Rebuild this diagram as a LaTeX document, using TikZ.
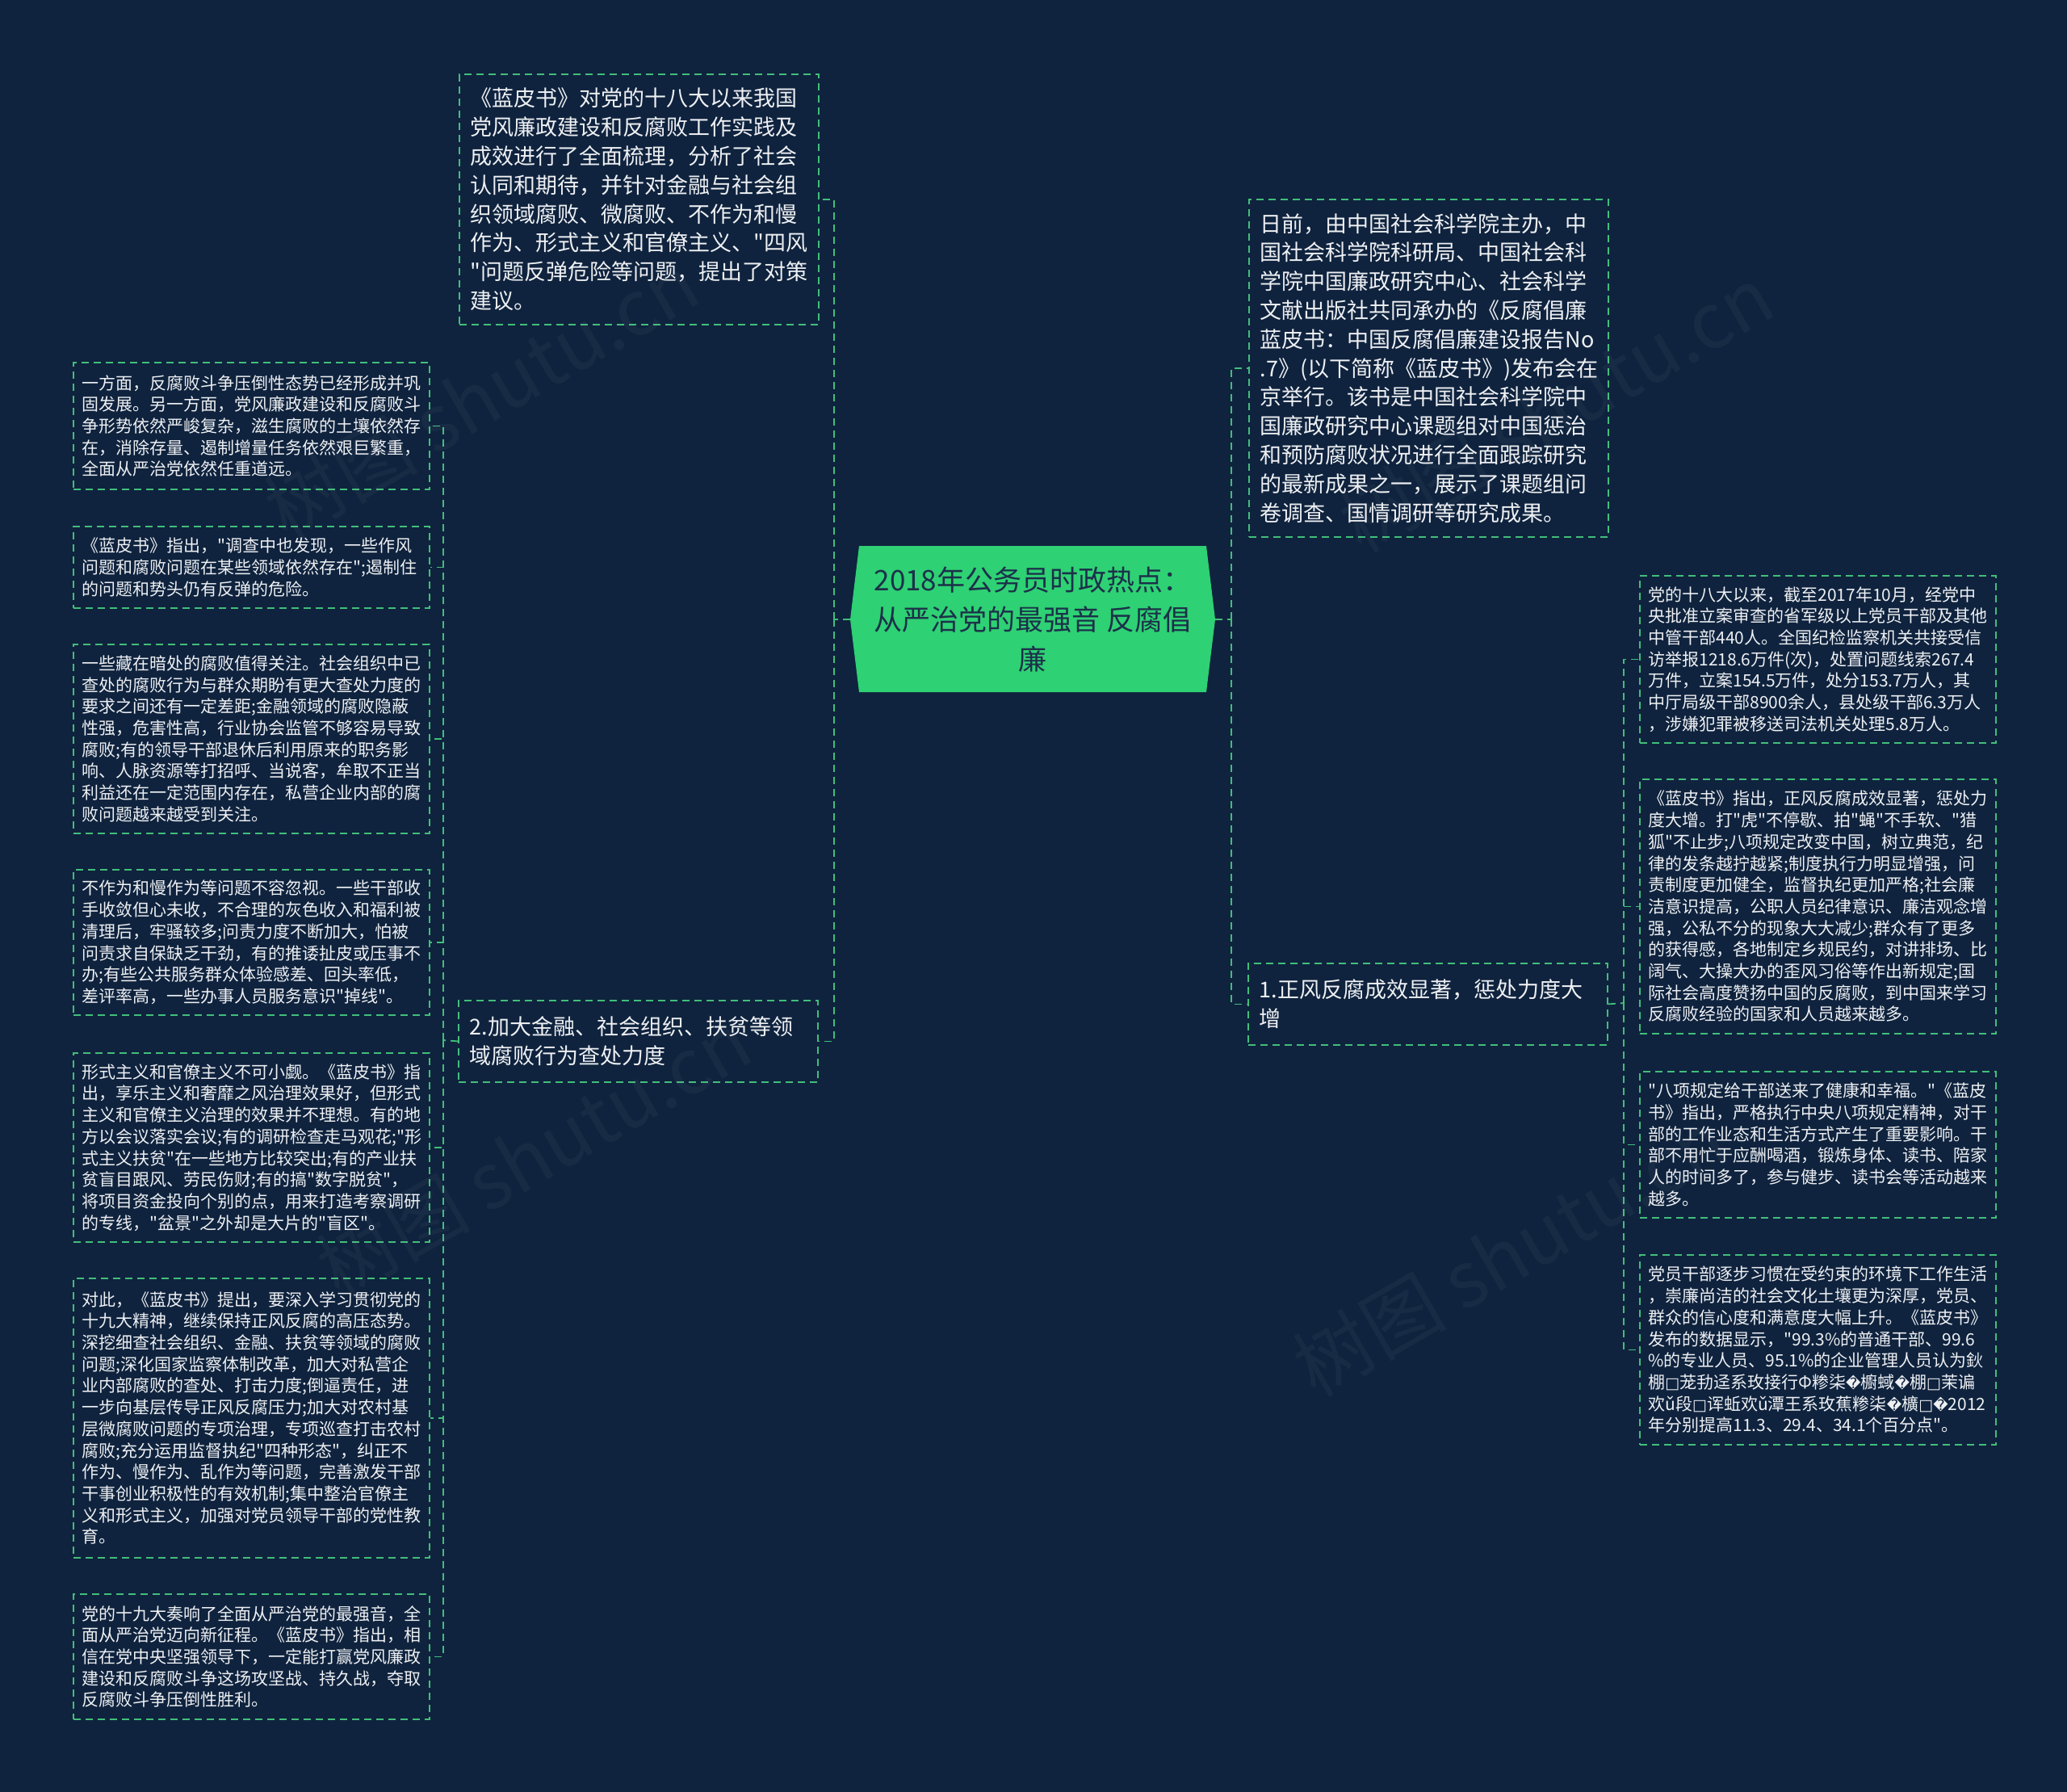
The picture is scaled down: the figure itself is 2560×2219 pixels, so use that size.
\documentclass[tikz,border=0pt]{standalone}
\usepackage{fontspec}
\setmainfont{Noto Sans CJK SC}
\newfontfamily\cjk{Noto Sans CJK SC}
\newfontfamily\dejavu{DejaVu Sans}
\newcommand{\rep}{{\dejavu\fontsize{18pt}{18pt}\selectfont\char"FFFD}}
\newcommand{\tofu}{{\dejavu\fontsize{19pt}{19pt}\selectfont\char"25A1}}
\definecolor{bg}{RGB}{15,35,62}
\definecolor{lg}{RGB}{66,190,122}
\definecolor{cg}{RGB}{46,209,115}
\definecolor{tx}{RGB}{238,240,243}
\definecolor{ctx}{RGB}{28,48,74}
\tikzset{
  boxbase/.style={draw=lg, line width=1.8pt, dash pattern=on 9pt off 6pt, fill=bg, text=tx, anchor=north west, align=left, inner ysep=0pt},
  sbox/.style={boxbase, inner xsep=10.5pt, text width=420pt, font=\cjk\fontsize{21pt}{26.7pt}\selectfont},
  bbox/.style={boxbase, inner xsep=14pt, text width=417pt, font=\cjk\fontsize{27pt}{35.8pt}\selectfont},
  link/.style={draw=lg, line width=1.8pt, dash pattern=on 9pt off 6pt},
  wmark/.style={text=white, opacity=0.04, rotate=30, font=\cjk\fontsize{95pt}{95pt}\selectfont}
}
\begin{document}
\begin{tikzpicture}[x=1pt,y=-1pt]
\useasboundingbox (0,0) rectangle (2560,2219);
\fill[bg] (0,0) rectangle (2560,2219);

% centre
\fill[cg] (1064,676) -- (1494,676) -- (1505,767) -- (1494,857) -- (1064,857) -- (1053,767) -- cycle;
\node[minimum width=452pt, minimum height=181pt, inner sep=0pt, align=center, text=ctx, font=\cjk\fontsize{35pt}{49pt}\selectfont] (c) at (1279,767) {2018年公务员时政热点：\\从严治党的最强音 反腐倡\\廉};

% top-left big box
\node[bbox, minimum height=310pt] (t1) at (568,91) {《蓝皮书》对党的十八大以来我国\\党风廉政建设和反腐败工作实践及\\成效进行了全面梳理，分析了社会\\认同和期待，并针对金融与社会组\\织领域腐败、微腐败、不作为和慢\\作为、形式主义和官僚主义、"四风\\"问题反弹危险等问题，提出了对策\\建议。};

% box 2
\node[bbox, minimum height=101pt] (b2) at (567,1238) {2.加大金融、社会组织、扶贫等领\\域腐败行为查处力度};

% top-right big box
\node[bbox, minimum height=418pt] (tr) at (1546,246) {日前，由中国社会科学院主办，中\\国社会科学院科研局、中国社会科\\学院中国廉政研究中心、社会科学\\文献出版社共同承办的《反腐倡廉\\蓝皮书：中国反腐倡廉建设报告No\\.7》(以下简称《蓝皮书》)发布会在\\京举行。该书是中国社会科学院中\\国廉政研究中心课题组对中国惩治\\和预防腐败状况进行全面跟踪研究\\的最新成果之一，展示了课题组问\\卷调查、国情调研等研究成果。};

% box 1
\node[bbox, minimum height=101pt] (b1) at (1545,1192) {1.正风反腐成效显著，惩处力度大\\增};

% left small boxes
\node[sbox, minimum height=157pt] (l1) at (90,448) {一方面，反腐败斗争压倒性态势已经形成并巩\\固发展。另一方面，党风廉政建设和反腐败斗\\争形势依然严峻复杂，滋生腐败的土壤依然存\\在，消除存量、遏制增量任务依然艰巨繁重，\\全面从严治党依然任重道远。};
\node[sbox, minimum height=101pt] (l2) at (90,651) {《蓝皮书》指出，"调查中也发现，一些作风\\问题和腐败问题在某些领域依然存在";遏制住\\的问题和势头仍有反弹的危险。};
\node[sbox, minimum height=234pt] (l3) at (90,797) {一些藏在暗处的腐败值得关注。社会组织中已\\查处的腐败行为与群众期盼有更大查处力度的\\要求之间还有一定差距;金融领域的腐败隐蔽\\性强，危害性高，行业协会监管不够容易导致\\腐败;有的领导干部退休后利用原来的职务影\\响、人脉资源等打招呼、当说客，牟取不正当\\利益还在一定范围内存在，私营企业内部的腐\\败问题越来越受到关注。};
\node[sbox, minimum height=180pt] (l4) at (90,1076) {不作为和慢作为等问题不容忽视。一些干部收\\手收敛但心未收，不合理的灰色收入和福利被\\清理后，牢骚较多;问责力度不断加大，怕被\\问责求自保缺乏干劲，有的推诿扯皮或压事不\\办;有些公共服务群众体验感差、回头率低，\\差评率高，一些办事人员服务意识"掉线"。};
\node[sbox, minimum height=234pt] (l5) at (90,1303) {形式主义和官僚主义不可小觑。《蓝皮书》指\\出，享乐主义和奢靡之风治理效果好，但形式\\主义和官僚主义治理的效果并不理想。有的地\\方以会议落实会议;有的调研检查走马观花;"形\\式主义扶贫"在一些地方比较突出;有的产业扶\\贫盲目跟风、劳民伤财;有的搞"数字脱贫"，\\将项目资金投向个别的点，用来打造考察调研\\的专线，"盆景"之外却是大片的"盲区"。};
\node[sbox, minimum height=346pt] (l6) at (90,1582) {对此，《蓝皮书》提出，要深入学习贯彻党的\\十九大精神，继续保持正风反腐的高压态势。\\深挖细查社会组织、金融、扶贫等领域的腐败\\问题;深化国家监察体制改革，加大对私营企\\业内部腐败的查处、打击力度;倒逼责任，进\\一步向基层传导正风反腐压力;加大对农村基\\层微腐败问题的专项治理，专项巡查打击农村\\腐败;充分运用监督执纪"四种形态"，纠正不\\作为、慢作为、乱作为等问题，完善激发干部\\干事创业积极性的有效机制;集中整治官僚主\\义和形式主义，加强对党员领导干部的党性教\\育。};
\node[sbox, minimum height=155pt] (l7) at (90,1973) {党的十九大奏响了全面从严治党的最强音，全\\面从严治党迈向新征程。《蓝皮书》指出，相\\信在党中央坚强领导下，一定能打赢党风廉政\\建设和反腐败斗争这场攻坚战、持久战，夺取\\反腐败斗争压倒性胜利。};

% right small boxes
\node[sbox, minimum height=207pt] (r1) at (2030,712) {党的十八大以来，截至2017年10月，经党中\\央批准立案审查的省军级以上党员干部及其他\\中管干部440人。全国纪检监察机关共接受信\\访举报1218.6万件(次)，处置问题线索267.4\\万件，立案154.5万件，处分153.7万人，其\\中厅局级干部8900余人，县处级干部6.3万人\\，涉嫌犯罪被移送司法机关处理5.8万人。};
\node[sbox, minimum height=315pt] (r2) at (2030,964) {《蓝皮书》指出，正风反腐成效显著，惩处力\\度大增。打"虎"不停歇、拍"蝇"不手软、"猎\\狐"不止步;八项规定改变中国，树立典范，纪\\律的发条越拧越紧;制度执行力明显增强，问\\责制度更加健全，监督执纪更加严格;社会廉\\洁意识提高，公职人员纪律意识、廉洁观念增\\强，公私不分的现象大大减少;群众有了更多\\的获得感，各地制定乡规民约，对讲排场、比\\阔气、大操大办的歪风习俗等作出新规定;国\\际社会高度赞扬中国的反腐败，到中国来学习\\反腐败经验的国家和人员越来越多。};
\node[sbox, minimum height=181pt] (r3) at (2030,1326) {"八项规定给干部送来了健康和幸福。"《蓝皮\\书》指出，严格执行中央八项规定精神，对干\\部的工作业态和生活方式产生了重要影响。干\\部不用忙于应酬喝酒，锻炼身体、读书、陪家\\人的时间多了，参与健步、读书会等活动越来\\越多。};
\node[sbox, minimum height=235pt] (r4) at (2030,1553) {党员干部逐步习惯在受约束的环境下工作生活\\，崇廉尚洁的社会文化土壤更为深厚，党员、\\群众的信心度和满意度大幅上升。《蓝皮书》\\发布的数据显示，"99.3\%的普通干部、99.6\\\%的专业人员、95.1\%的企业管理人员认为鈥\\棚\tofu 茏劧迳系玫接行Φ糁柒\rep 櫥蜮\rep 棚\tofu 茉谝\\欢ǔ段\tofu 诨蚯欢ǔ潭王系玫蕉糁柒\rep 櫎\tofu\rep 2012\\年分别提高11.3、29.4、34.1个百分点"。};

% connectors
\coordinate (jl) at (1033,767);
\coordinate (jl2) at (549,1288);
\coordinate (jr) at (1525,767);
\coordinate (jr2) at (2011,1242);
\draw[link] (c.west) -- (jl);
\draw[link] (jl) |- (t1.east);
\draw[link] (jl) |- (b2.east);
\draw[link] (b2.west) -- (jl2);
\foreach \n in {l1,l2,l3,l4,l5,l6,l7} \draw[link] (jl2) |- (\n.east);
\draw[link] (c.east) -- (jr);
\draw[link] (jr) |- (tr.west);
\draw[link] (jr) |- (b1.west);
\draw[link] (b1.east) -- (jr2);
\foreach \n in {r1,r2,r3,r4} \draw[link] (jr2) |- (\n.west);

% watermarks
\node[wmark] (w1) at (596,490) {树图 shutu.cn};
\node[wmark] (w2) at (661,1429) {树图 shutu.cn};
\node[wmark] (w3) at (1870,1551) {树图 shutu.cn};
\node[wmark] (w4) at (1927,506) {树图 shutu.cn};
\end{tikzpicture}
\end{document}
